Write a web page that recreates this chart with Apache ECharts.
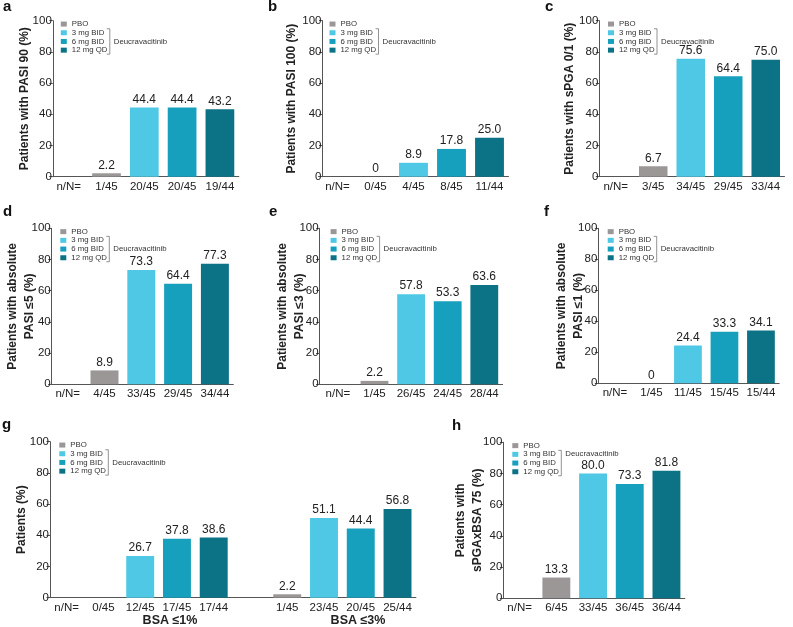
<!DOCTYPE html>
<html>
<head>
<meta charset="utf-8">
<title>Deucravacitinib responses</title>
<script src="https://cdn.jsdelivr.net/npm/echarts/dist/echarts.min.js"></script>
<style>
  html, body { margin: 0; padding: 0; background: #fff; }
  #chart { width: 793px; height: 627px; }
</style>
</head>
<body>
<div id="chart"></div>
<script>
/** data */
var doses = ['PBO', '3 mg BID', '6 mg BID', '12 mg QD'];
var doseColors = ['#9b9796', '#4ec8e5', '#16a0be', '#0b7385'];
var yTicks = [0, 20, 40, 60, 80, 100];

var pasi90 = [2.2, 44.4, 44.4, 43.2];
var pasi90N = ['1/45', '20/45', '20/45', '19/44'];
var pasi100 = [0, 8.9, 17.8, 25.0];
var pasi100N = ['0/45', '4/45', '8/45', '11/44'];
var spga01 = [6.7, 75.6, 64.4, 75.0];
var spga01N = ['3/45', '34/45', '29/45', '33/44'];
var pasiLe5 = [8.9, 73.3, 64.4, 77.3];
var pasiLe5N = ['4/45', '33/45', '29/45', '34/44'];
var pasiLe3 = [2.2, 57.8, 53.3, 63.6];
var pasiLe3N = ['1/45', '26/45', '24/45', '28/44'];
var pasiLe1 = [0, 24.4, 33.3, 34.1];
var pasiLe1N = ['1/45', '11/45', '15/45', '15/44'];
var bsaLe1 = [0, 26.7, 37.8, 38.6];
var bsaLe1N = ['0/45', '12/45', '17/45', '17/44'];
var bsaLe3 = [2.2, 51.1, 44.4, 56.8];
var bsaLe3N = ['1/45', '23/45', '20/45', '25/44'];
var spgaBsa75 = [13.3, 80.0, 73.3, 81.8];
var spgaBsa75N = ['6/45', '33/45', '36/45', '36/44'];

var groupTitles = ['BSA \u22641%', 'BSA \u22643%'];

/**
 * layout of each panel
 * box = [left, top, width, height], off = y axis shift, gap = name gap
 */
var panels = [
    { letter: 'a', at: [3, 14], box: [49.8, 20.7, 189, 156], off: -3, gap: 20, yName: 'Patients with PASI 90 (%)', sets: [[pasi90, pasi90N]] },
    { letter: 'b', at: [268, 14], box: [318.5, 20.7, 190, 156], off: -4, gap: 23, yName: 'Patients with PASI 100 (%)', sets: [[pasi100, pasi100N]] },
    { letter: 'c', at: [545, 14], box: [597, 20.7, 187.5, 156], off: -2.3, gap: 21, yName: 'Patients with sPGA 0/1 (%)', sets: [[spga01, spga01N]] },
    { letter: 'd', at: [3, 219], box: [49.3, 228.3, 184, 156], off: -2.4, gap: 14, yName: 'Patients with absolute\nPASI \u22645 (%)', sets: [[pasiLe5, pasiLe5N]] },
    { letter: 'e', at: [269, 219], box: [319.6, 228.3, 183, 156], off: 0, gap: 12, yName: 'Patients with absolute\nPASI \u22643 (%)', sets: [[pasiLe3, pasiLe3N]] },
    { letter: 'f', at: [544, 219], box: [596.7, 228.3, 182.5, 155], off: -1.6, gap: 11.5, yName: 'Patients with absolute\nPASI \u22641 (%)', sets: [[pasiLe1, pasiLe1N]] },
    { letter: 'g', at: [2, 432], box: [48.3, 441.7, 367.6, 156], off: -1.7, gap: 20, yName: 'Patients (%)', sets: [[bsaLe1, bsaLe1N], [bsaLe3, bsaLe3N]], hideZero: true, titles: [[170, 621], [358, 621]] },
    { letter: 'h', at: [452, 433], box: [501.3, 442.3, 183.5, 156], off: -2, gap: 17.5, yName: 'Patients with\nsPGAxBSA 75 (%)', sets: [[spgaBsa75, spgaBsa75N]], deucRow: 1 }
];

var FONT = '"Liberation Sans", Arial, sans-serif';
var INK = '#222';
var AXIS = '#555';

function fmt(v) {
    return v === 0 ? '0' : v.toFixed(1);
}

var option = {
    animation: false,
    backgroundColor: '#fff',
    textStyle: { fontFamily: FONT },
    grid: [], xAxis: [], yAxis: [], series: [], legend: [], graphic: []
};

panels.forEach(function (p, pi) {
    // categories: n/N= first, then each dose group, blank slot between groups
    var cats = ['n/N='];
    var slots = [];
    p.sets.forEach(function (s, si) {
        if (si > 0) { cats.push(''); }
        slots.push(cats.length);
        s[1].forEach(function (n) { cats.push(n); });
    });

    option.grid.push({ left: p.box[0], top: p.box[1], width: p.box[2], height: p.box[3], containLabel: false });

    option.xAxis.push({
        type: 'category', gridIndex: pi, data: cats,
        axisLine: { lineStyle: { color: AXIS, width: 1 } },
        axisTick: { show: false },
        axisLabel: { interval: 0, fontSize: 11.5, color: INK, margin: 4 }
    });

    option.yAxis.push({
        type: 'value', gridIndex: pi, offset: p.off,
        min: yTicks[0], max: yTicks[yTicks.length - 1], interval: yTicks[1] - yTicks[0],
        name: p.yName, nameLocation: 'middle', nameRotate: 90, nameGap: p.gap,
        nameMoveOverlap: false,
        nameTextStyle: { fontSize: 12, fontWeight: 'bold', color: INK, lineHeight: 16.5 },
        axisLine: { show: true, lineStyle: { color: AXIS, width: 1 } },
        axisTick: { show: true, length: 3.5, lineStyle: { color: AXIS } },
        axisLabel: { fontSize: 11.5, color: INK, margin: 1 },
        splitLine: { show: false }
    });

    doses.forEach(function (d, k) {
        var data = cats.map(function () { return '-'; });
        p.sets.forEach(function (s, si) {
            var v = s[0][k];
            var item = { value: v };
            if (p.hideZero && v === 0) { item.label = { show: false }; }
            data[slots[si] + k] = item;
        });
        option.series.push({
            type: 'bar', name: d, xAxisIndex: pi, yAxisIndex: pi,
            data: data, barGap: '-100%', barCategoryGap: '24%',
            itemStyle: { color: doseColors[k] },
            label: {
                show: true, position: 'top', distance: 2, fontSize: 12, color: INK,
                formatter: function (o) { return fmt(o.value); }
            }
        });
    });

    // legend inside the plot, top left
    var L = p.box[0] + 11, T = p.box[1] - 1, rh = 8.7;
    option.legend.push({
        data: doses, orient: 'vertical', left: L, top: T, padding: 0,
        itemWidth: 6, itemHeight: 5, itemGap: 0, icon: 'rect', selectedMode: false,
        textStyle: { fontSize: 7.8, color: '#333', lineHeight: rh, fontFamily: FONT }
    });

    var bx = L + 49, y0 = T + rh * 1.5 - 4, y1 = T + rh * 3.5 + 4;
    var row = p.deucRow == null ? 2 : p.deucRow;
    option.graphic.push({
        type: 'polyline', silent: true,
        shape: { points: [[bx - 3, y0], [bx, y0], [bx, y1], [bx - 3, y1]] },
        style: { stroke: '#777', lineWidth: 0.8, fill: null }
    });
    option.graphic.push({
        type: 'text', silent: true, x: bx + 4, y: T + rh * (row + 0.5),
        style: { text: 'Deucravacitinib', font: '7.8px ' + FONT, fill: '#333', verticalAlign: 'middle' }
    });

    // panel letter
    option.graphic.push({
        type: 'text', silent: true, x: p.at[0], y: p.at[1],
        style: { text: p.letter, font: 'bold 15px ' + FONT, fill: '#111', verticalAlign: 'bottom' }
    });

    if (p.titles) {
        p.titles.forEach(function (t, ti) {
            option.graphic.push({
                type: 'text', silent: true, x: t[0], y: t[1],
                style: { text: groupTitles[ti], font: 'bold 12.5px ' + FONT, fill: INK, align: 'center', verticalAlign: 'middle' }
            });
        });
    }
});

var myChart = echarts.init(document.getElementById('chart'), null, { renderer: 'canvas' });
myChart.setOption(option);
</script>
</body>
</html>
